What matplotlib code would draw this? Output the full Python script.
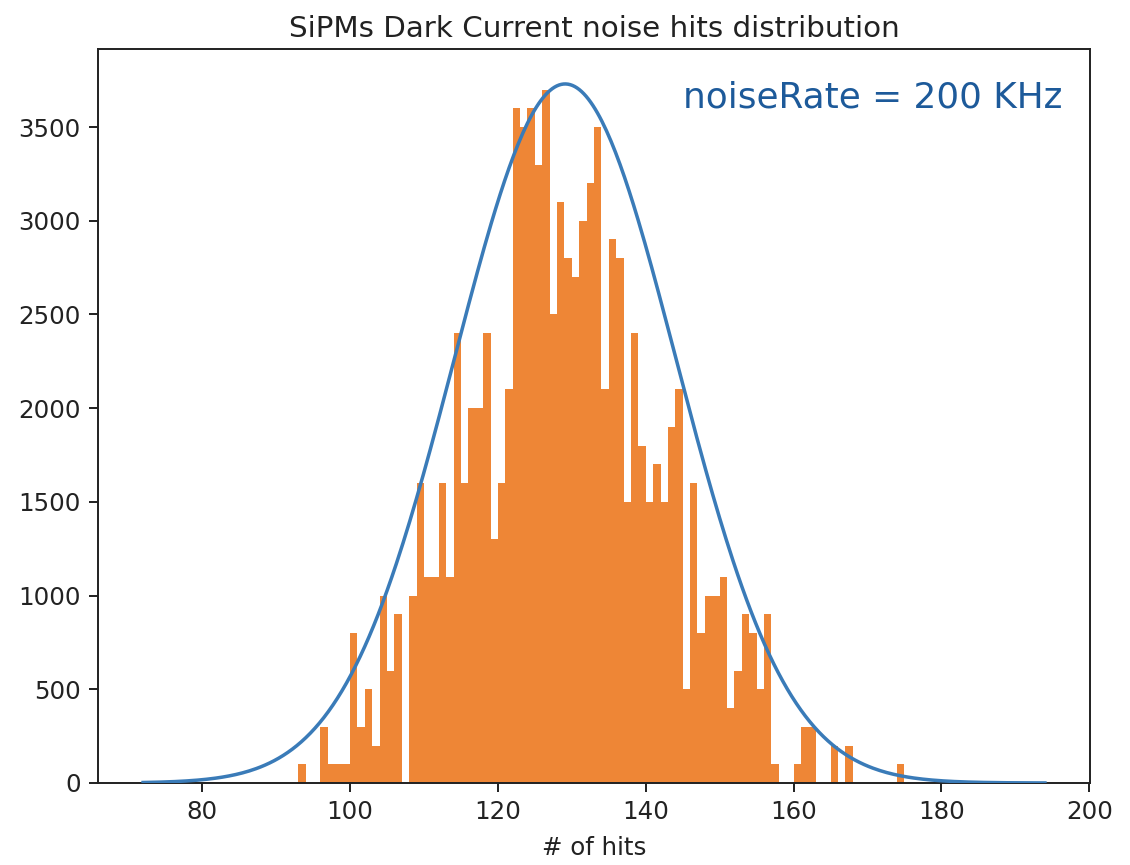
import numpy as np
import matplotlib
matplotlib.use("Agg")
import matplotlib.pyplot as plt

# ---- data ----
bin_left = list(range(93, 175))  # bins of width 1: [93,94) ... [174,175)
counts = [
    100, 0, 0, 300, 100, 100, 100, 800, 300, 500,      # 93-102
    200, 1000, 600, 900, 0, 1000, 1600, 1100, 1100, 1600,  # 103-112
    1100, 2400, 1600, 2000, 2000, 2400, 1300, 1600, 2100, 3600,  # 113-122
    3500, 3600, 3300, 3700, 2500, 3100, 2800, 2700, 3000, 3200,  # 123-132
    3500, 2100, 2900, 2800, 1500, 2400, 1800, 1500, 1700, 1500,  # 133-142
    1900, 2100, 500, 1600, 800, 1000, 1000, 1100, 400, 600,      # 143-152
    900, 800, 500, 900, 100, 0, 0, 100, 300, 300,                # 153-162
    0, 0, 200, 0, 200, 0, 0, 0, 0, 0,                            # 163-172
    0, 100,                                                      # 173-174
]
bin_width = 1.0

# fitted gaussian parameters (estimated from the curve)
fit_mu = 129.1
fit_sigma = 15.0
fit_amp = 3730
fit_xmin, fit_xmax = 72.0, 194.0

title = "SiPMs Dark Current noise hits distribution"
xlabel = "# of hits"
note = "noiseRate = 200 KHz"

S = 1.766  # scale factor relative to default matplotlib sizes

fig = plt.figure(figsize=(11.30, 8.65), dpi=100)
ax = fig.add_axes([98 / 1130, (865 - 783) / 865, (1090 - 98) / 1130, (783 - 49) / 865])

ax.bar(bin_left, counts, width=bin_width, align="edge", color="#ee8636", linewidth=0, zorder=2)

xf = np.linspace(fit_xmin, fit_xmax, 400)
yf = fit_amp * np.exp(-0.5 * ((xf - fit_mu) / fit_sigma) ** 2)
ax.plot(xf, yf, color="#3a7bb8", lw=1.5 * S * 0.95, zorder=3)

ax.set_xticks([80, 100, 120, 140, 160, 180, 200])
ax.set_yticks(range(0, 3501, 500))
ax.tick_params(labelsize=10 * S, length=3.5 * S, width=0.8 * S, colors="#222222", pad=3.5 * S)
for sp in ax.spines.values():
    sp.set_linewidth(0.8 * S)
    sp.set_color("#222222")

ax.set_title(title, fontsize=12 * S, pad=5 * S, color="#222222")
ax.set_xlabel(xlabel, fontsize=10 * S, labelpad=5 * S, color="#222222")

fig.text(683 / 1130, 1 - 97 / 865, note, family=["DejaVu Sans"], fontsize=25.8,
         color="#1d5a9a", ha="left", va="center")

fig.savefig("out.png", dpi=100)
